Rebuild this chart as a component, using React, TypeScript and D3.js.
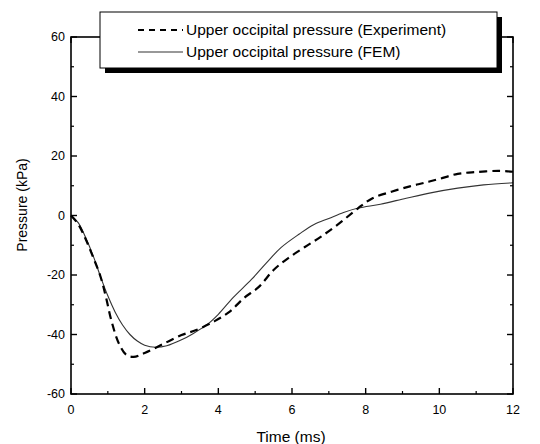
import React from 'react';
import * as d3 from 'd3';

// values
const expTime = [0, 0.2, 0.4, 0.6, 0.8, 0.95, 1.1, 1.3, 1.5, 1.7, 2.0, 2.5, 3.0, 3.4, 3.9, 4.3, 4.7, 5.1, 5.5, 5.9, 6.35, 6.8, 7.3, 7.8, 8.2, 8.7, 9.2, 9.6, 10.0, 10.5, 11.0, 11.6, 12.0];
const expPressure = [0, -3, -8, -14, -20.5, -27.5, -35.5, -43, -46.8, -47.5, -46.2, -43.2, -40.2, -38.5, -35.5, -32.4, -27.7, -24, -18.3, -14.3, -10.6, -7, -2.5, 2.5, 5.9, 8, 9.8, 11, 12.3, 14, 14.6, 15, 14.7];

const femTime = [0, 0.2, 0.4, 0.6, 0.8, 1.0, 1.2, 1.4, 1.6, 1.8, 2.0, 2.3, 2.6, 3.0, 3.3, 3.7, 4.0, 4.4, 4.9, 5.3, 5.7, 6.2, 6.6, 7.0, 7.4, 7.8, 8.4, 9.1, 9.8, 10.5, 11.2, 12.0];
const femPressure = [0, -2.5, -7.5, -13.5, -20.5, -27, -32.5, -36.8, -40, -42.2, -43.6, -44.3, -43.8, -41.8, -39.8, -36.6, -33.2, -27.6, -21.5, -16, -10.8, -6.2, -3, -1, 1, 2.5, 3.8, 5.8, 7.7, 9.2, 10.3, 11];

const xMajor = [0, 2, 4, 6, 8, 10, 12];
const xMinor = [1, 3, 5, 7, 9, 11];
const yMajor = [-60, -40, -20, 0, 20, 40, 60];
const yMinor = [-50, -30, -10, 10, 30, 50];

const legendLabels = ['Upper occipital pressure (Experiment)', 'Upper occipital pressure (FEM)'];

const W = 540, H = 444;
const left = 71, right = 513, top = 37, bottom = 394;
const font = 'Arial, "Liberation Sans", Helvetica, sans-serif';

export default function App() {
  const x = d3.scaleLinear().domain([0, 12]).range([left, right]);
  const y = d3.scaleLinear().domain([-60, 60]).range([bottom, top]);

  const line = d3.line<[number, number]>()
    .x(d => x(d[0]))
    .y(d => y(d[1]))
    .curve(d3.curveCatmullRom.alpha(0.5));

  const expData = expTime.map((t, i) => [t, expPressure[i]] as [number, number]);
  const femData = femTime.map((t, i) => [t, femPressure[i]] as [number, number]);

  const major = 6, minor = 3;

  return (
    <svg width={W} height={H} style={{ position: 'absolute', left: 0, top: 0, background: '#fff' }}>
      {/* curves */}
      <path d={line(femData) || ''} fill="none" stroke="#333" strokeWidth={1.1} />
      <path d={line(expData) || ''} fill="none" stroke="#000" strokeWidth={2.2} strokeDasharray="8,5" />

      {/* frame */}
      <rect x={left} y={top} width={right - left} height={bottom - top} fill="none" stroke="#000" strokeWidth={1.6} />

      {/* x ticks, bottom and top, pointing inward */}
      {xMajor.map(v => (
        <g key={'xM' + v}>
          <line x1={x(v)} x2={x(v)} y1={bottom} y2={bottom - major} stroke="#000" strokeWidth={1.4} />
          <line x1={x(v)} x2={x(v)} y1={top} y2={top + major} stroke="#000" strokeWidth={1.4} />
          <text x={x(v)} y={414} textAnchor="middle" fontFamily={font} fontSize={12.5}>{v}</text>
        </g>
      ))}
      {xMinor.map(v => (
        <g key={'xm' + v}>
          <line x1={x(v)} x2={x(v)} y1={bottom} y2={bottom - minor} stroke="#000" strokeWidth={1.2} />
          <line x1={x(v)} x2={x(v)} y1={top} y2={top + minor} stroke="#000" strokeWidth={1.2} />
        </g>
      ))}

      {/* y ticks, left and right, pointing inward */}
      {yMajor.map(v => (
        <g key={'yM' + v}>
          <line x1={left} x2={left + major} y1={y(v)} y2={y(v)} stroke="#000" strokeWidth={1.4} />
          <line x1={right} x2={right - major} y1={y(v)} y2={y(v)} stroke="#000" strokeWidth={1.4} />
          <text x={65} y={y(v)} dy="0.35em" textAnchor="end" fontFamily={font} fontSize={12.5}>{v}</text>
        </g>
      ))}
      {yMinor.map(v => (
        <g key={'ym' + v}>
          <line x1={left} x2={left + minor} y1={y(v)} y2={y(v)} stroke="#000" strokeWidth={1.2} />
          <line x1={right} x2={right - minor} y1={y(v)} y2={y(v)} stroke="#000" strokeWidth={1.2} />
        </g>
      ))}

      {/* axis titles */}
      <text x={291} y={442} textAnchor="middle" fontFamily={font} fontSize={15.5}>Time (ms)</text>
      <text transform="translate(27,205) rotate(-90)" textAnchor="middle" fontFamily={font} fontSize={14}>Pressure (kPa)</text>

      {/* legend with drop shadow */}
      <rect x={105} y={17} width={397} height={56} fill="#000" />
      <rect x={100} y={12} width={397} height={56} fill="#fff" stroke="#000" strokeWidth={1} />
      <line x1={138} x2={183} y1={30} y2={30} stroke="#000" strokeWidth={2} strokeDasharray="6,5" />
      <line x1={138} x2={183} y1={52} y2={52} stroke="#333" strokeWidth={1.1} />
      <text x={186} y={35} fontFamily={font} fontSize={15.5}>{legendLabels[0]}</text>
      <text x={186} y={57} fontFamily={font} fontSize={15.5}>{legendLabels[1]}</text>
    </svg>
  );
}
